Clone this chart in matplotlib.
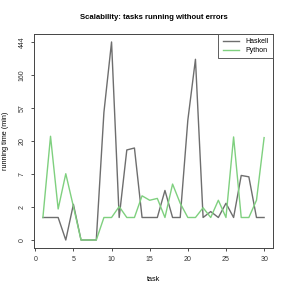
import numpy as np
import matplotlib
matplotlib.use("Agg")
import matplotlib.pyplot as plt

plt.rcParams["font.family"] = ["Liberation Sans", "DejaVu Sans"]

# running time in minutes, one value per task
tasks = list(range(1, 31))
haskell = [1, 1, 1, 0, 2, 0, 0, 0, 50, 444,
           1, 15, 16, 1, 1, 1, 3.6, 1, 1, 39,
           260, 1, 1.4, 1, 2.1, 1, 6.3, 6.0, 1, 1]
python = [1, 23.4, 1.6, 6.7, 1.8, 0, 0, 0, 1, 1,
          1.8, 1, 1, 2.9, 2.4, 2.6, 1, 4.6, 2.1, 1,
          1, 1.7, 1, 2.4, 1, 22.9, 1, 1, 2.4, 22.4]

ytick_labels = ["0", "2", "7", "20", "57", "160", "444"]
xticks = [0, 5, 10, 15, 20, 25, 30]


def fwd(y):
    return np.log1p(np.maximum(y, -0.999))


def inv(v):
    return np.expm1(v)


fig = plt.figure(figsize=(2.91, 2.91), dpi=100)
ax = fig.add_axes([0.117, 0.148, 0.821, 0.735])
ax.set_yscale("function", functions=(fwd, inv))

ax.plot(tasks, haskell, color="#6e6e6e", lw=1.0, label="Haskell")
ax.plot(tasks, python, color="#7fd07f", lw=1.0, label="Python")

top = np.log1p(444)
ax.set_ylim(inv(-0.04 * top), inv(1.04 * top))
ax.set_xlim(-0.16, 31.16)
ax.set_yticks(inv(np.arange(7) * top / 6))
ax.set_yticklabels(ytick_labels, rotation=90, va="center")
ax.set_xticks(xticks)
ax.minorticks_off()

ax.tick_params(labelsize=5.0, length=2.5, width=0.6, pad=3.5, colors="#333333")
for sp in ax.spines.values():
    sp.set_linewidth(0.7)
    sp.set_color("#444444")

ax.set_title("Scalability: tasks running without errors", fontsize=5.6,
             fontweight="bold", pad=11)
ax.set_xlabel("task", fontsize=5.2, labelpad=9)
ax.set_ylabel("running time (min)", fontsize=5.2, labelpad=7)

leg = ax.legend(loc="upper right", fontsize=5.0, fancybox=False,
                borderaxespad=0, handlelength=2.4, framealpha=1,
                borderpad=0.6, labelspacing=0.3, handletextpad=0.9)
leg.get_frame().set_edgecolor("#444444")
leg.get_frame().set_linewidth(0.6)

fig.savefig("out.png", dpi=100)
